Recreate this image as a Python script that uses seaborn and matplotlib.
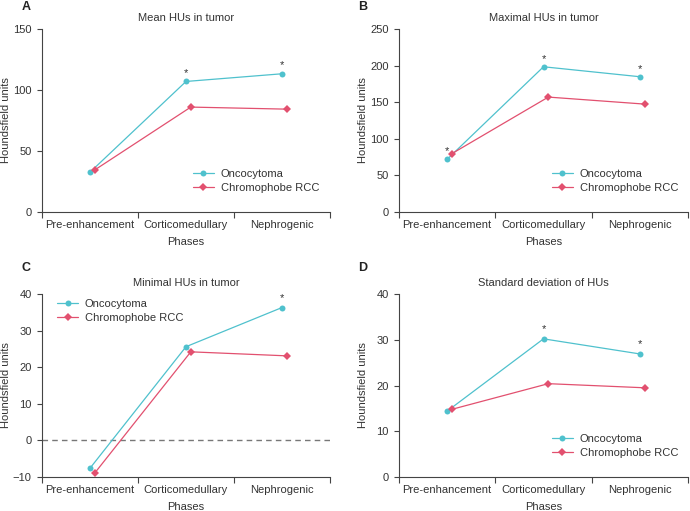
import numpy as np
import pandas as pd
import matplotlib
matplotlib.use("Agg")
import matplotlib.pyplot as plt
import seaborn as sns

sns.set_style("ticks")
plt.rcParams['font.family'] = ['Liberation Sans', 'DejaVu Sans']

phases = ["Pre-enhancement", "Corticomedullary", "Nephrogenic"]
groups = ["Oncocytoma", "Chromophobe RCC"]

mean_onc = [32.6, 107.0, 113.3]
mean_rcc = [34.5, 86.0, 84.3]
max_onc = [72.0, 198.4, 184.8]
max_rcc = [79.8, 157.0, 147.4]
min_onc = [-7.6, 25.6, 36.3]
min_rcc = [-8.9, 24.2, 23.1]
sd_onc = [14.4, 30.2, 26.9]
sd_rcc = [14.8, 20.4, 19.5]

sig_mean = [1, 2]
sig_max = [0, 1, 2]
sig_min = [2]
sig_sd = [1, 2]

titles = ["Mean HUs in tumor", "Maximal HUs in tumor", "Minimal HUs in tumor", "Standard deviation of HUs"]
letters = ["A", "B", "C", "D"]
ylims = [(0, 150), (0, 250), (-10, 40), (0, 40)]
yticks = [[0, 50, 100, 150], [0, 50, 100, 150, 200, 250], [-10, 0, 10, 20, 30, 40], [0, 10, 20, 30, 40]]
star_off = [7, 11, 2.5, 2.2]
legend_locs = [(0.524, 0.169), (0.529, 0.169), (0.052, 0.907), (0.529, 0.169)]
letter_pos = [(-0.07, 1.12), (-0.142, 1.12), (-0.07, 1.14), (-0.142, 1.14)]

panels = [(mean_onc, mean_rcc, sig_mean), (max_onc, max_rcc, sig_max),
          (min_onc, min_rcc, sig_min), (sd_onc, sd_rcc, sig_sd)]

colors = {"Oncocytoma": "#4fc1cd", "Chromophobe RCC": "#e2506f"}
markers = {"Oncocytoma": "o", "Chromophobe RCC": "D"}
msizes = {"Oncocytoma": 4.3, "Chromophobe RCC": 3.8}
offsets = {"Oncocytoma": 0.0, "Chromophobe RCC": 0.05}
FS = 8

fig = plt.figure(figsize=(6.9, 5.11), dpi=100)
positions = [
    [42/690, 1-212/511, (330-42)/690, (212-29)/511],
    [399/690, 1-212/511, (688-399)/690, (212-29)/511],
    [42/690, 1-477/511, (330-42)/690, (477-294)/511],
    [399/690, 1-477/511, (688-399)/690, (477-294)/511],
]

for i, (onc, rcc, sig) in enumerate(panels):
    ax = fig.add_axes(positions[i])
    rows = []
    for g, vals in zip(groups, [onc, rcc]):
        for j, (p, v) in enumerate(zip(phases, vals)):
            rows.append({"phase": p, "x": j + offsets[g], "value": v, "group": g})
    df = pd.DataFrame(rows)
    if i == 2:
        ax.axhline(0, color="#777777", lw=1.0, ls=(0, (4, 3)), zorder=0)
    for g in groups:
        sub = df[df.group == g]
        sns.lineplot(data=sub, x="x", y="value", ax=ax, color=colors[g], marker=markers[g],
                     markersize=msizes[g], markeredgewidth=0,
                     linewidth=0.9, label=g, sort=False)
    for j in sig:
        ax.text(j + offsets["Oncocytoma"], onc[j] + star_off[i], "*", ha="center", va="center",
                fontsize=FS, color="#333333")
    ax.set_xlim(-0.5, 2.5)
    ax.set_ylim(*ylims[i])
    ax.set_yticks(yticks[i])
    ax.set_xticks([-0.5, 0.5, 1.5, 2.5])
    ax.set_xticklabels([])
    ax.set_xticks([0, 1, 2], minor=True)
    ax.set_xticklabels(phases, minor=True, fontsize=FS, color="#333333")
    ax.tick_params(axis="x", which="minor", length=0, pad=6)
    ax.tick_params(axis="x", which="major", length=4, color="#444444", width=0.8)
    ax.tick_params(axis="y", length=3.5, color="#444444", width=0.8, labelsize=FS, labelcolor="#333333", pad=4)
    for s in ["left", "bottom"]:
        ax.spines[s].set_color("#444444")
        ax.spines[s].set_linewidth(0.8)
    sns.despine(ax=ax)
    ax.set_xlabel("Phases", fontsize=FS, color="#333333", labelpad=5)
    ax.set_ylabel("Houndsfield units", fontsize=FS, color="#333333")
    ax.yaxis.set_label_coords(-0.108, 0.5)
    ax.set_title(titles[i], fontsize=FS, color="#333333", pad=6)
    ax.text(letter_pos[i][0], letter_pos[i][1], letters[i], transform=ax.transAxes,
            fontsize=9, fontweight="bold", color="#222222", ha="left", va="center")
    leg = ax.legend(loc="center left", bbox_to_anchor=legend_locs[i], frameon=False,
                    fontsize=FS, handlelength=1.9, handletextpad=0.6, borderaxespad=0,
                    borderpad=0, labelspacing=0.35)
    for t in leg.get_texts():
        t.set_color("#333333")

fig.savefig("out.png", dpi=100)
